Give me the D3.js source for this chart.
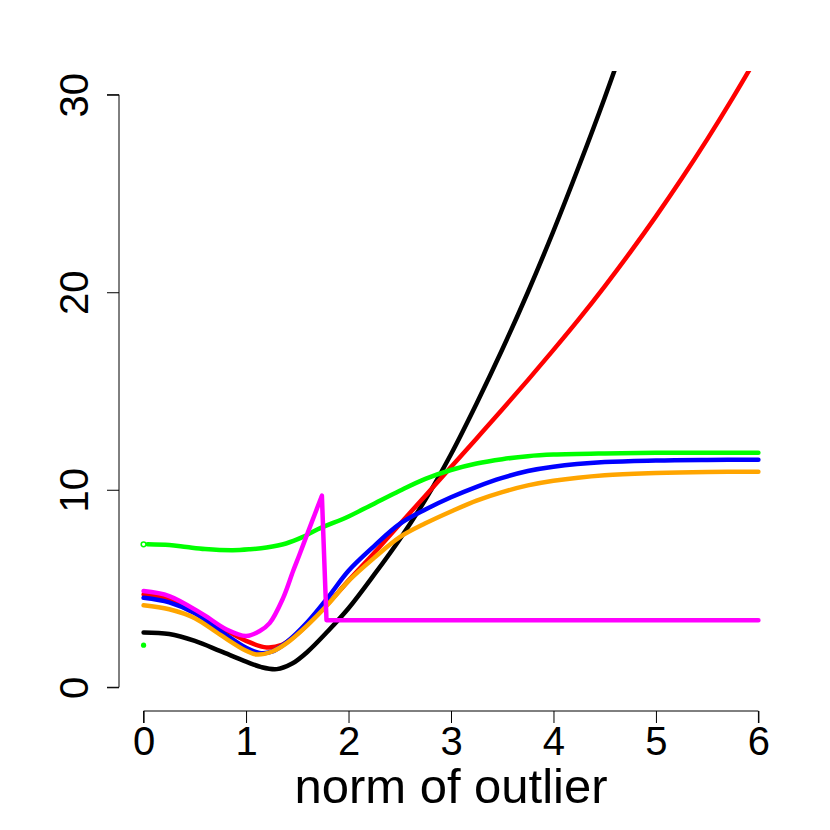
<!DOCTYPE html>
<html>
<head>
<meta charset="utf-8">
<script src="https://cdn.jsdelivr.net/npm/d3@7"></script>
<style>
  html, body { margin: 0; padding: 0; background: #fff; }
  text { font-family: "Liberation Sans", Arial, Helvetica, sans-serif; fill: #000; }
</style>
</head>
<body>
<svg id="chart" width="830" height="830"></svg>
<script>
// ---- data ----
const xTicks = [0, 1, 2, 3, 4, 5, 6];
const yTicks = [0, 10, 20, 30];
const xLabel = "norm of outlier";

const blackX = [0, 0.25, 0.5, 0.75, 1.0, 1.15, 1.3, 1.45, 1.6, 1.8, 2.0, 2.25, 2.5, 2.75, 3.0, 3.25, 3.5, 3.75, 4.0, 4.25, 4.5, 4.75];
const blackY = [2.78, 2.7, 2.35, 1.83, 1.3, 1.02, 0.92, 1.2, 1.8, 2.85, 4.0, 5.7, 7.5, 9.5, 11.8, 14.37, 17.1, 20.0, 23.1, 26.4, 29.85, 33.5];

const redX = [0, 0.25, 0.5, 0.75, 1.0, 1.2, 1.35, 1.5, 1.75, 2.0, 2.25, 2.5, 2.75, 3.0, 3.25, 3.5, 3.75, 4.0, 4.25, 4.5, 4.75, 5.0, 5.25, 5.5, 5.75, 6.0];
const redY = [4.7, 4.48, 3.85, 3.05, 2.35, 2.02, 2.15, 2.7, 3.95, 5.4, 6.8, 8.25, 9.7, 11.15, 12.6, 14.06, 15.55, 17.08, 18.65, 20.3, 22.03, 23.84, 25.74, 27.74, 29.84, 32.04];

const blueX = [0, 0.25, 0.5, 0.75, 1.0, 1.13, 1.25, 1.4, 1.6, 1.8, 2.0, 2.25, 2.5, 2.75, 3.0, 3.25, 3.5, 3.75, 4.0, 4.5, 5.0, 5.5, 6.0];
const blueY = [4.53, 4.3, 3.75, 2.85, 2.0, 1.74, 1.8, 2.3, 3.3, 4.55, 5.9, 7.15, 8.27, 9.0, 9.62, 10.15, 10.6, 10.95, 11.17, 11.4, 11.48, 11.51, 11.52];

const orangeX = [0, 0.25, 0.5, 0.75, 1.0, 1.1, 1.25, 1.4, 1.6, 1.8, 2.0, 2.25, 2.5, 2.75, 3.0, 3.25, 3.5, 3.75, 4.0, 4.5, 5.0, 5.5, 6.0];
const orangeY = [4.15, 3.95, 3.5, 2.65, 1.85, 1.66, 1.8, 2.25, 3.15, 4.2, 5.38, 6.55, 7.6, 8.3, 8.9, 9.45, 9.88, 10.22, 10.46, 10.74, 10.85, 10.9, 10.91];

const greenX = [0.04, 0.25, 0.42, 0.6, 0.87, 1.04, 1.2, 1.39, 1.55, 1.7, 2.0, 2.21, 2.5, 2.75, 3.0, 3.25, 3.5, 3.75, 4.0, 4.5, 5.0, 6.0];
const greenY = [7.24, 7.2, 7.1, 7.0, 6.94, 6.99, 7.08, 7.28, 7.6, 8.0, 8.65, 9.19, 9.95, 10.55, 11.0, 11.33, 11.55, 11.7, 11.78, 11.84, 11.87, 11.88];
const greenOpenPoint = [0, 7.24];
const greenDotPoint = [0, 2.13];

const magentaX = [0, 0.25, 0.58, 0.81, 1.0, 1.13, 1.23, 1.36, 1.46, 1.52, 1.6, 1.67, 1.74, 1.785, 6.0];
const magentaY = [4.87, 4.62, 3.69, 2.93, 2.6, 2.84, 3.25, 4.5, 5.9, 6.7, 7.8, 8.75, 9.7, 3.4, 3.4];
const magentaPeakIndex = 12;

// ---- layout ----
const svg = d3.select("#chart");
const plot = { left: 119, right: 783, top: 71, bottom: 711 };

const x = d3.scaleLinear().domain([-0.24, 6.24]).range([plot.left, plot.right]);
const y = d3.scaleLinear().domain([-1.2, 31.2]).range([plot.bottom, plot.top]);

svg.append("defs").append("clipPath").attr("id", "clip")
  .append("rect")
  .attr("x", plot.left).attr("y", plot.top)
  .attr("width", plot.right - plot.left).attr("height", plot.bottom - plot.top);

const g = svg.append("g").attr("clip-path", "url(#clip)");

const zip = (xs, ys) => xs.map((v, i) => [v, ys[i]]);
const smooth = d3.line().x(d => x(d[0])).y(d => y(d[1])).curve(d3.curveCatmullRom.alpha(0.5));
const straight = d3.line().x(d => x(d[0])).y(d => y(d[1])).curve(d3.curveLinear);

const LW = 4.5;
function drawPath(d, color) {
  g.append("path")
    .attr("d", d)
    .attr("fill", "none")
    .attr("stroke", color)
    .attr("stroke-width", LW)
    .attr("stroke-linecap", "round")
    .attr("stroke-linejoin", "round");
}

drawPath(smooth(zip(blackX, blackY)), "#000000");
drawPath(smooth(zip(redX, redY)), "#FF0000");
drawPath(smooth(zip(blueX, blueY)), "#0000FF");
drawPath(smooth(zip(orangeX, orangeY)), "#FFA500");
drawPath(smooth(zip(greenX, greenY)), "#00FF00");

const mag = zip(magentaX, magentaY);
const magPath = smooth(mag.slice(0, magentaPeakIndex + 1)) + straight(mag.slice(magentaPeakIndex)).replace(/^M/, "L");
drawPath(magPath, "#FF00FF");

// green point markers
svg.append("circle")
  .attr("cx", x(greenOpenPoint[0])).attr("cy", y(greenOpenPoint[1]))
  .attr("r", 2.4).attr("fill", "#fff").attr("stroke", "#00FF00").attr("stroke-width", 1.5);
svg.append("circle")
  .attr("cx", x(greenDotPoint[0])).attr("cy", y(greenDotPoint[1]))
  .attr("r", 2.6).attr("fill", "#00FF00");

// ---- axes ----
const xAxis = d3.axisBottom(x).tickValues(xTicks).tickSize(12).tickPadding(4).tickFormat(d3.format("d"));
const xg = svg.append("g").attr("transform", `translate(0,${plot.bottom})`).call(xAxis);
xg.select(".domain").attr("d", `M${x(0)},12V0H${x(6)}V12`).attr("stroke", "#000");
xg.selectAll(".tick line").attr("stroke", "#000");
xg.selectAll(".tick text")
  .attr("font-size", 40)
  .attr("font-family", "Liberation Sans, Arial, sans-serif")
  .attr("dy", null)
  .attr("y", 44);

const yAxis = d3.axisLeft(y).tickValues(yTicks).tickSize(12).tickFormat(d3.format("d"));
const yg = svg.append("g").attr("transform", `translate(${plot.left},0)`).call(yAxis);
yg.select(".domain").attr("d", `M-12,${y(0)}H0V${y(30)}H-12`).attr("stroke", "#000");
yg.selectAll(".tick line").attr("stroke", "#000");
yg.selectAll(".tick text")
  .attr("font-size", 40)
  .attr("font-family", "Liberation Sans, Arial, sans-serif")
  .attr("x", null).attr("dy", null)
  .attr("text-anchor", "middle")
  .attr("transform", "translate(-31,0) rotate(-90)");

svg.append("text")
  .attr("x", (plot.left + plot.right) / 2)
  .attr("y", 803)
  .attr("text-anchor", "middle")
  .attr("font-size", 49)
  .text(xLabel);
</script>
</body>
</html>
